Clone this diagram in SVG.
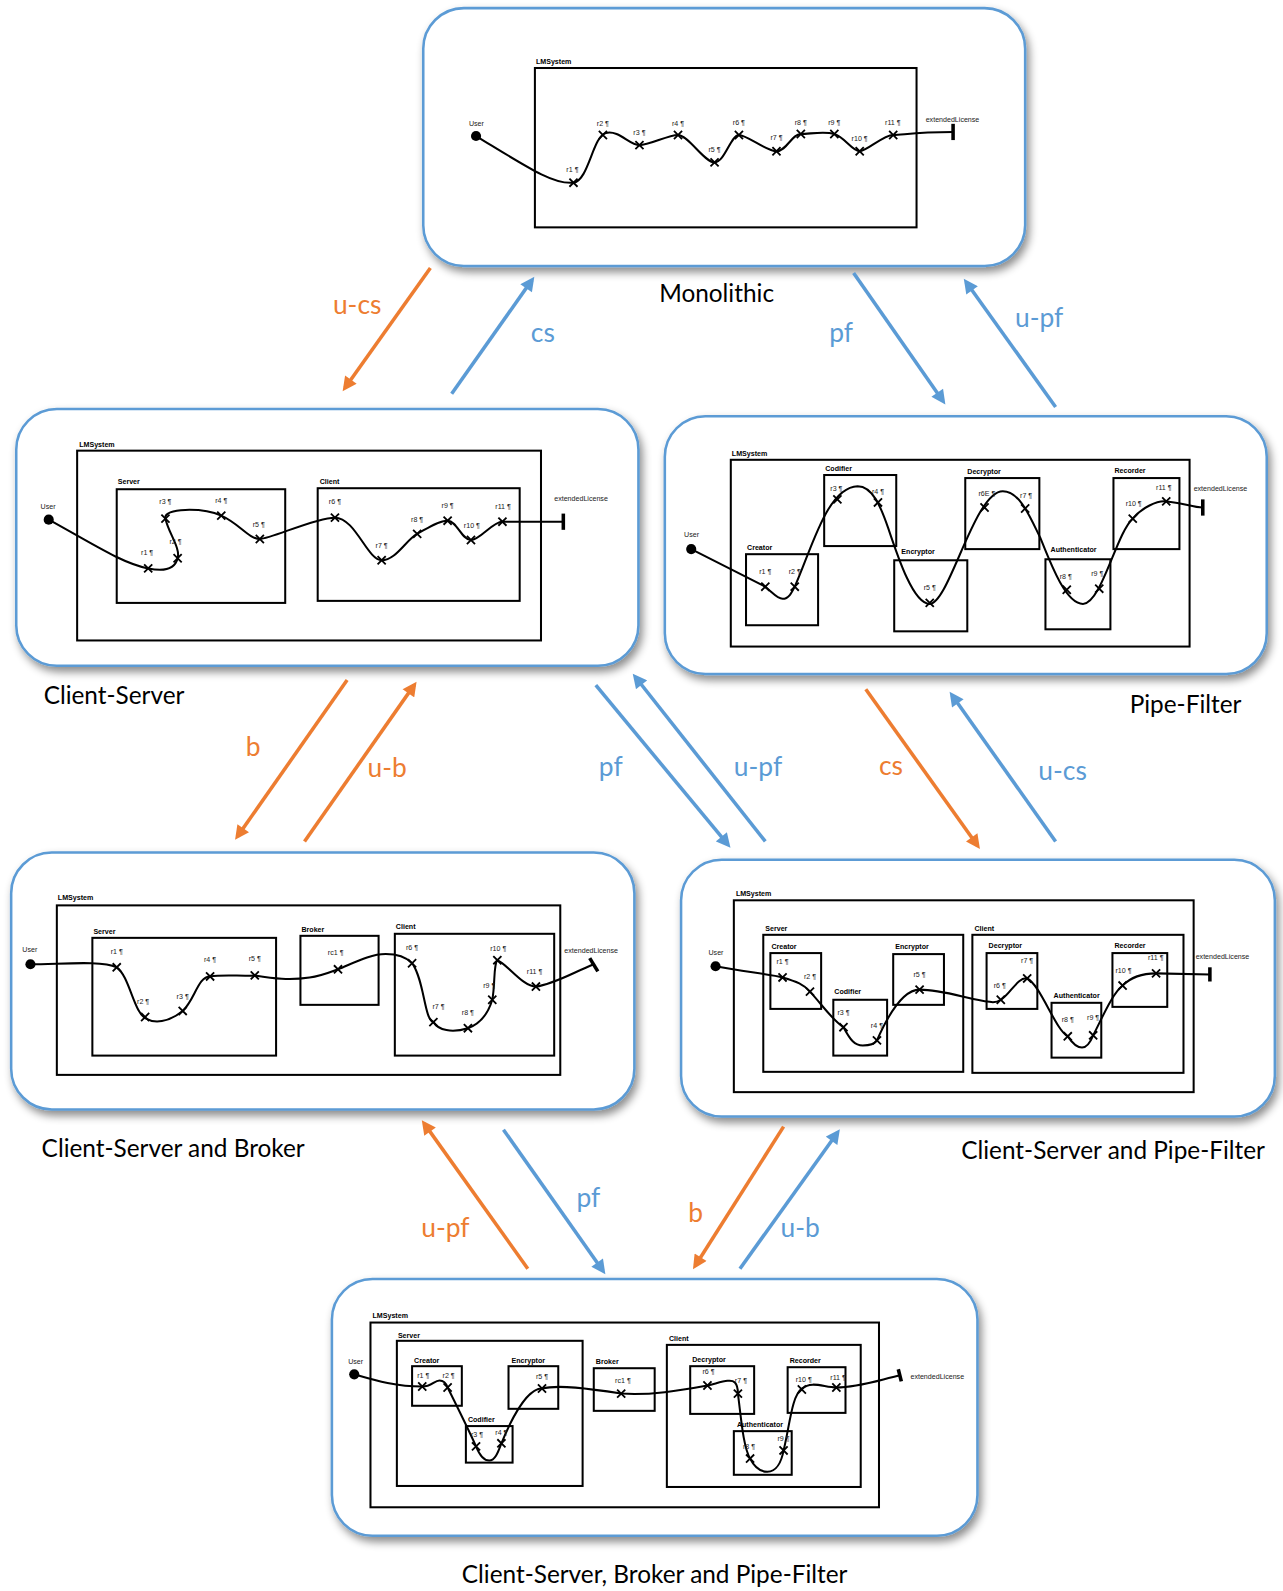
<svg xmlns="http://www.w3.org/2000/svg" xmlns:xlink="http://www.w3.org/1999/xlink" width="1283" height="1591" viewBox="0 0 1283 1591">
<style>
.panel{fill:#fff;stroke:#5B9BD5;stroke-width:2.5;filter:url(#sh)}
.box{fill:none;stroke:#000;stroke-width:2}
.route{fill:none;stroke:#000;stroke-width:2}
.bar{stroke:#000;stroke-width:3.5}
.s{font-family:"Liberation Sans",Arial,sans-serif;font-size:7px;fill:#222}
.b{font-weight:bold;fill:#000}
.t{font-family:Lato,"Open Sans",sans-serif;font-size:24px;fill:#000}
.lab{font-family:Lato,"Open Sans",sans-serif;font-size:26px}
.bl{fill:#5B9BD5}
.or{fill:#ED7D31}
.cb{stroke:#5B9BD5;stroke-width:3.5;fill:none;marker-end:url(#ab)}
.co{stroke:#ED7D31;stroke-width:3.5;fill:none;marker-end:url(#ao)}
</style>
<defs>
<filter id="sh" x="-5%" y="-5%" width="115%" height="125%"><feDropShadow dx="3" dy="5" stdDeviation="4" flood-color="#000" flood-opacity="0.45"/></filter>
<marker id="ab" viewBox="0 0 10 10" refX="7" refY="5" markerWidth="15" markerHeight="14" markerUnits="userSpaceOnUse" orient="auto"><path d="M0,0L10,5L0,10z" fill="#5B9BD5"/></marker>
<marker id="ao" viewBox="0 0 10 10" refX="7" refY="5" markerWidth="15" markerHeight="14" markerUnits="userSpaceOnUse" orient="auto"><path d="M0,0L10,5L0,10z" fill="#ED7D31"/></marker>
<path id="x" d="M-4,-4L4,4M-4,4L4,-4" stroke="#000" stroke-width="1.8"/>
</defs>
<g transform="scale(1.015)">

<g id="monolithic">
<rect class="panel" x="417" y="8" width="593" height="254" rx="40"/>
<text class="s b" x="528" y="63">LMSystem</text>
<rect class="box" x="527" y="67" width="376" height="157"/>
<circle cx="469" cy="134" r="5"/>
<text class="s" x="462" y="124">User</text>
<path class="route" d="M469,134 C520,165 545,182 565,180 C580,178 584,134 597,131 S620,143 630,143 S658,133 668,133 S694,160 704,160 S720,133 728,133 S755,149 765,149 S780,132 789,132 S812,129 822,132 S840,149 847,149 S870,133 880,133 S900,130 939,130"/>
<line class="bar" x1="939" y1="122" x2="939" y2="138"/>
<use href="#x" x="565" y="180"/><use href="#x" x="594" y="133"/><use href="#x" x="630" y="143"/><use href="#x" x="668" y="133"/><use href="#x" x="704" y="160"/><use href="#x" x="728" y="133"/><use href="#x" x="765" y="149"/><use href="#x" x="789" y="132"/><use href="#x" x="822" y="132"/><use href="#x" x="847" y="149"/><use href="#x" x="880" y="133"/>
<text class="s" x="558" y="169">r1 ¶</text><text class="s" x="588" y="124">r2 ¶</text><text class="s" x="624" y="133">r3 ¶</text><text class="s" x="662" y="124">r4 ¶</text><text class="s" x="698" y="150">r5 ¶</text><text class="s" x="722" y="123">r6 ¶</text><text class="s" x="759" y="138">r7 ¶</text><text class="s" x="783" y="123">r8 ¶</text><text class="s" x="816" y="123">r9 ¶</text><text class="s" x="839" y="139">r10 ¶</text><text class="s" x="872" y="123">r11 ¶</text>
<text class="s" x="912" y="120">extendedLicense</text>
<text class="t" x="706" y="298" text-anchor="middle">Monolithic</text>
</g>

<g id="client-server">
<rect class="panel" x="16" y="403" width="613" height="253" rx="40"/>
<text class="s b" x="78" y="440">LMSystem</text>
<rect class="box" x="76" y="444" width="457" height="187"/>
<text class="s b" x="116" y="477">Server</text>
<rect class="box" x="115" y="482" width="166" height="112"/>
<text class="s b" x="315" y="477">Client</text>
<rect class="box" x="313" y="481" width="199" height="111"/>
<circle cx="48" cy="512" r="5"/>
<text class="s" x="40" y="501">User</text>
<path class="route" d="M48,512 C90,535 120,555 146,560 C160,563 172,562 175,550 C178,540 166,525 163,511 C160,500 200,500 218,508 S245,531 256,531 S310,510 330,510 S362,552 376,552 S400,532 411,526 S432,513 441,513 S455,532 464,532 S485,514 495,514 L555,514"/>
<line class="bar" x1="555" y1="506" x2="555" y2="522"/>
<use href="#x" x="146" y="560"/><use href="#x" x="175" y="550"/><use href="#x" x="163" y="511"/><use href="#x" x="218" y="508"/><use href="#x" x="256" y="531"/><use href="#x" x="330" y="510"/><use href="#x" x="376" y="552"/><use href="#x" x="411" y="526"/><use href="#x" x="441" y="513"/><use href="#x" x="464" y="532"/><use href="#x" x="495" y="514"/>
<text class="s" x="139" y="547">r1 ¶</text><text class="s" x="167" y="536">r2 ¶</text><text class="s" x="157" y="497">r3 ¶</text><text class="s" x="212" y="496">r4 ¶</text><text class="s" x="249" y="519">r5 ¶</text><text class="s" x="324" y="497">r6 ¶</text><text class="s" x="370" y="540">r7 ¶</text><text class="s" x="405" y="514">r8 ¶</text><text class="s" x="435" y="500">r9 ¶</text><text class="s" x="457" y="520">r10 ¶</text><text class="s" x="488" y="501">r11 ¶</text>
<text class="s" x="546" y="494">extendedLicense</text>
<text class="t" x="43" y="694">Client-Server</text>
</g>

<g id="pipe-filter">
<rect class="panel" x="655" y="410" width="593" height="254" rx="40"/>
<text class="s b" x="721" y="449">LMSystem</text>
<rect class="box" x="720" y="453" width="452" height="184"/>
<text class="s b" x="736" y="542">Creator</text><rect class="box" x="735" y="546" width="71" height="70"/>
<text class="s b" x="813" y="464">Codifier</text><rect class="box" x="812" y="468" width="71" height="70"/>
<text class="s b" x="888" y="546">Encryptor</text><rect class="box" x="881" y="552" width="72" height="70"/>
<text class="s b" x="953" y="467">Decryptor</text><rect class="box" x="951" y="471" width="73" height="70"/>
<text class="s b" x="1035" y="544">Authenticator</text><rect class="box" x="1030" y="551" width="64" height="69"/>
<text class="s b" x="1098" y="466">Recorder</text><rect class="box" x="1097" y="471" width="65" height="70"/>
<circle cx="681" cy="541" r="5"/>
<text class="s" x="674" y="529">User</text>
<path class="route" d="M681,541 L752,577 C760,582 765,590 771,590 S780,584 783,578 C800,540 815,480 845,479 C860,479 868,500 875,520 C885,550 900,595 916,595 C935,595 960,484 988,484 C1005,484 1015,510 1025,530 C1035,555 1050,595 1067,595 C1085,595 1100,525 1116,511 C1125,500 1140,493 1149,494 C1165,495 1175,500 1185,500"/>
<line class="bar" x1="1185" y1="492" x2="1185" y2="508"/>
<use href="#x" x="754" y="578"/><use href="#x" x="783" y="578"/><use href="#x" x="825" y="492"/><use href="#x" x="865" y="495"/><use href="#x" x="916" y="594"/><use href="#x" x="970" y="500"/><use href="#x" x="1010" y="501"/><use href="#x" x="1051" y="581"/><use href="#x" x="1083" y="580"/><use href="#x" x="1116" y="511"/><use href="#x" x="1149" y="494"/>
<text class="s" x="748" y="566">r1 ¶</text><text class="s" x="777" y="566">r2 ¶</text><text class="s" x="818" y="484">r3 ¶</text><text class="s" x="859" y="487">r4 ¶</text><text class="s" x="910" y="581">r5 ¶</text><text class="s" x="964" y="489">r6E ¶</text><text class="s" x="1005" y="491">r7 ¶</text><text class="s" x="1044" y="570">r8 ¶</text><text class="s" x="1075" y="567">r9 ¶</text><text class="s" x="1109" y="499">r10 ¶</text><text class="s" x="1139" y="483">r11 ¶</text>
<text class="s" x="1176" y="484">extendedLicense</text>
<text class="t" x="1113" y="702">Pipe-Filter</text>
</g>

<g id="cs-broker">
<rect class="panel" x="11" y="840" width="614" height="253" rx="40"/>
<text class="s b" x="57" y="887">LMSystem</text>
<rect class="box" x="56" y="892" width="496" height="167"/>
<text class="s b" x="92" y="920">Server</text><rect class="box" x="91" y="924" width="181" height="116"/>
<text class="s b" x="297" y="918">Broker</text><rect class="box" x="296" y="922" width="77" height="68"/>
<text class="s b" x="390" y="915">Client</text><rect class="box" x="389" y="920" width="157" height="120"/>
<circle cx="30" cy="950" r="5"/>
<text class="s" x="22" y="938">User</text>
<path class="route" d="M30,950 C60,950 100,946 115,953 C128,962 132,1000 145,1004 C152,1008 165,1008 180,996 C192,985 195,962 207,962 C220,960 240,962 251,961 C270,964 285,966 305,963 C315,962 325,958 333,955 C350,948 365,940 380,940 C395,940 402,945 406,949 C418,965 418,1005 427,1007 C432,1015 445,1018 461,1013 C475,1008 482,995 485,985 C488,970 486,950 490,946 C500,950 515,972 528,972 C545,970 565,958 585,950"/>
<line class="bar" x1="581" y1="944" x2="589" y2="957"/>
<use href="#x" x="115" y="953"/><use href="#x" x="143" y="1002"/><use href="#x" x="180" y="996"/><use href="#x" x="207" y="962"/><use href="#x" x="251" y="961"/><use href="#x" x="333" y="955"/><use href="#x" x="406" y="949"/><use href="#x" x="427" y="1007"/><use href="#x" x="461" y="1013"/><use href="#x" x="485" y="985"/><use href="#x" x="490" y="946"/><use href="#x" x="528" y="972"/>
<text class="s" x="109" y="940">r1 ¶</text><text class="s" x="135" y="989">r2 ¶</text><text class="s" x="174" y="984">r3 ¶</text><text class="s" x="201" y="948">r4 ¶</text><text class="s" x="245" y="947">r5 ¶</text><text class="s" x="323" y="941">rc1 ¶</text><text class="s" x="400" y="936">r6 ¶</text><text class="s" x="426" y="994">r7 ¶</text><text class="s" x="455" y="1000">r8 ¶</text><text class="s" x="476" y="973">r9 ¶</text><text class="s" x="483" y="937">r10 ¶</text><text class="s" x="519" y="960">r11 ¶</text>
<text class="s" x="556" y="939">extendedLicense</text>
<text class="t" x="41" y="1140">Client-Server and Broker</text>
</g>

<g id="cs-pf">
<rect class="panel" x="671" y="847" width="585" height="253" rx="40"/>
<text class="s b" x="725" y="883">LMSystem</text>
<rect class="box" x="723" y="887" width="453" height="189"/>
<text class="s b" x="754" y="917">Server</text><rect class="box" x="752" y="921" width="197" height="135"/>
<text class="s b" x="960" y="917">Client</text><rect class="box" x="958" y="921" width="208" height="136"/>
<text class="s b" x="760" y="935">Creator</text><rect class="box" x="759" y="939" width="50" height="55"/>
<text class="s b" x="822" y="979">Codifier</text><rect class="box" x="821" y="985" width="53" height="55"/>
<text class="s b" x="882" y="935">Encryptor</text><rect class="box" x="880" y="940" width="50" height="50"/>
<text class="s b" x="974" y="934">Decryptor</text><rect class="box" x="972" y="939" width="50" height="55"/>
<text class="s b" x="1038" y="983">Authenticator</text><rect class="box" x="1036" y="988" width="49" height="54"/>
<text class="s b" x="1098" y="934">Recorder</text><rect class="box" x="1096" y="939" width="54" height="53"/>
<circle cx="705" cy="952" r="5"/>
<text class="s" x="698" y="941">User</text>
<path class="route" d="M705,952 C730,957 760,960 771,963 C785,967 792,970 798,977 C810,990 820,1005 831,1012 C838,1025 842,1030 850,1030 C858,1030 862,1028 864,1025 C875,1000 890,975 906,975 C930,975 955,985 975,987 C980,988 983,987 986,985 C995,980 1003,962 1012,964 C1025,970 1040,1015 1052,1021 C1058,1030 1062,1032 1066,1032 C1072,1032 1075,1025 1077,1020 C1085,1005 1095,980 1106,971 C1115,962 1125,959 1139,959 L1192,960"/>
<line class="bar" x1="1192" y1="953" x2="1192" y2="967"/>
<use href="#x" x="771" y="963"/><use href="#x" x="798" y="977"/><use href="#x" x="831" y="1012"/><use href="#x" x="864" y="1025"/><use href="#x" x="906" y="975"/><use href="#x" x="986" y="985"/><use href="#x" x="1012" y="964"/><use href="#x" x="1052" y="1021"/><use href="#x" x="1077" y="1020"/><use href="#x" x="1106" y="971"/><use href="#x" x="1139" y="959"/>
<text class="s" x="765" y="950">r1 ¶</text><text class="s" x="792" y="965">r2 ¶</text><text class="s" x="825" y="1000">r3 ¶</text><text class="s" x="858" y="1013">r4 ¶</text><text class="s" x="900" y="963">r5 ¶</text><text class="s" x="979" y="973">r6 ¶</text><text class="s" x="1006" y="949">r7 ¶</text><text class="s" x="1046" y="1007">r8 ¶</text><text class="s" x="1071" y="1005">r9 ¶</text><text class="s" x="1099" y="959">r10 ¶</text><text class="s" x="1131" y="946">r11 ¶</text>
<text class="s" x="1178" y="945">extendedLicense</text>
<text class="t" x="947" y="1142">Client-Server and Pipe-Filter</text>
</g>

<g id="cs-broker-pf">
<rect class="panel" x="327" y="1260" width="636" height="253" rx="40"/>
<text class="s b" x="367" y="1299" font-size="6">LMSystem</text>
<rect class="box" x="365" y="1303" width="501" height="182"/>
<text class="s b" x="392" y="1318" font-size="6">Server</text><rect class="box" x="391" y="1321" width="183" height="143"/>
<text class="s b" x="408" y="1343" font-size="6">Creator</text><rect class="box" x="406" y="1346" width="49" height="39"/>
<text class="s b" x="461" y="1401" font-size="6">Codifier</text><rect class="box" x="459" y="1405" width="46" height="36"/>
<text class="s b" x="504" y="1343" font-size="6">Encryptor</text><rect class="box" x="501" y="1346" width="49" height="42"/>
<text class="s b" x="587" y="1344" font-size="6">Broker</text><rect class="box" x="585" y="1348" width="60" height="42"/>
<text class="s b" x="659" y="1321" font-size="6">Client</text><rect class="box" x="657" y="1325" width="191" height="140"/>
<text class="s b" x="682" y="1342" font-size="6">Decryptor</text><rect class="box" x="680" y="1346" width="63" height="47"/>
<text class="s b" x="778" y="1343" font-size="6">Recorder</text><rect class="box" x="776" y="1347" width="57" height="45"/>
<text class="s b" x="726" y="1406" font-size="6">Authenticator</text><rect class="box" x="723" y="1410" width="57" height="43"/>
<circle cx="349" cy="1354" r="5"/>
<text class="s" x="343" y="1344" font-size="6">User</text>
<path class="route" d="M349,1354 C370,1360 390,1366 416,1366 C425,1366 428,1360 433,1360 C438,1360 440,1364 441,1367 C450,1385 460,1405 469,1425 C473,1435 477,1439 482,1439 C488,1439 491,1430 494,1422 C505,1395 520,1368 534,1368 C550,1364 580,1368 612,1373 C640,1375 670,1370 697,1365 C710,1362 720,1358 724,1362 C727,1365 727,1370 727,1373 C730,1395 732,1425 739,1437 C743,1445 748,1450 756,1450 C765,1450 770,1440 772,1429 C778,1405 780,1375 790,1368 C800,1360 812,1367 824,1367 C845,1367 865,1360 887,1355"/>
<line class="bar" x1="885" y1="1349" x2="888" y2="1361"/>
<use href="#x" x="416" y="1366"/><use href="#x" x="441" y="1367"/><use href="#x" x="469" y="1425"/><use href="#x" x="494" y="1422"/><use href="#x" x="534" y="1368"/><use href="#x" x="612" y="1373"/><use href="#x" x="697" y="1365"/><use href="#x" x="727" y="1373"/><use href="#x" x="739" y="1437"/><use href="#x" x="772" y="1429"/><use href="#x" x="790" y="1369"/><use href="#x" x="824" y="1367"/>
<text class="s" x="411" y="1358" font-size="6">r1 ¶</text><text class="s" x="436" y="1358" font-size="6">r2 ¶</text><text class="s" x="464" y="1416" font-size="6">r3 ¶</text><text class="s" x="488" y="1414" font-size="6">r4 ¶</text><text class="s" x="528" y="1359" font-size="6">r5 ¶</text><text class="s" x="606" y="1363" font-size="6">rc1 ¶</text><text class="s" x="692" y="1354" font-size="6">r6 ¶</text><text class="s" x="724" y="1363" font-size="6">r7 ¶</text><text class="s" x="732" y="1428" font-size="6">r8 ¶</text><text class="s" x="766" y="1420" font-size="6">r9 ¶</text><text class="s" x="784" y="1362" font-size="6">r10 ¶</text><text class="s" x="818" y="1360" font-size="6">r11 ¶</text>
<text class="s" x="897" y="1359" font-size="6">extendedLicense</text>
<text class="t" x="455" y="1560">Client-Server, Broker and Pipe-Filter</text>
</g>

<g id="connectors">
<line class="co" x1="424" y1="264" x2="340" y2="382"/>
<text class="lab or" x="328" y="309">u-cs</text>
<line class="cb" x1="445" y1="388" x2="524" y2="276"/>
<text class="lab bl" x="523" y="337">cs</text>
<line class="cb" x1="841" y1="269" x2="929" y2="395"/>
<text class="lab bl" x="817" y="337">pf</text>
<line class="cb" x1="1040" y1="401" x2="952" y2="278"/>
<text class="lab bl" x="1000" y="322">u-pf</text>

<line class="co" x1="342" y1="670" x2="234" y2="824"/>
<text class="lab or" x="242" y="745">b</text>
<line class="co" x1="300" y1="829" x2="408" y2="675"/>
<text class="lab or" x="362" y="766">u-b</text>
<line class="cb" x1="587" y1="675" x2="717" y2="832"/>
<text class="lab bl" x="590" y="765">pf</text>
<line class="cb" x1="754" y1="829" x2="626" y2="667"/>
<text class="lab bl" x="723" y="765">u-pf</text>
<line class="co" x1="853" y1="679" x2="963" y2="833"/>
<text class="lab or" x="866" y="764">cs</text>
<line class="cb" x1="1040" y1="829" x2="938" y2="685"/>
<text class="lab bl" x="1023" y="768">u-cs</text>

<line class="co" x1="520" y1="1250" x2="418" y2="1107"/>
<text class="lab or" x="415" y="1219">u-pf</text>
<line class="cb" x1="496" y1="1113" x2="594" y2="1252"/>
<text class="lab bl" x="568" y="1189">pf</text>
<line class="co" x1="772" y1="1110" x2="685" y2="1247"/>
<text class="lab or" x="678" y="1204">b</text>
<line class="cb" x1="729" y1="1250" x2="825" y2="1116"/>
<text class="lab bl" x="769" y="1219">u-b</text>
</g>

</g>
</svg>
